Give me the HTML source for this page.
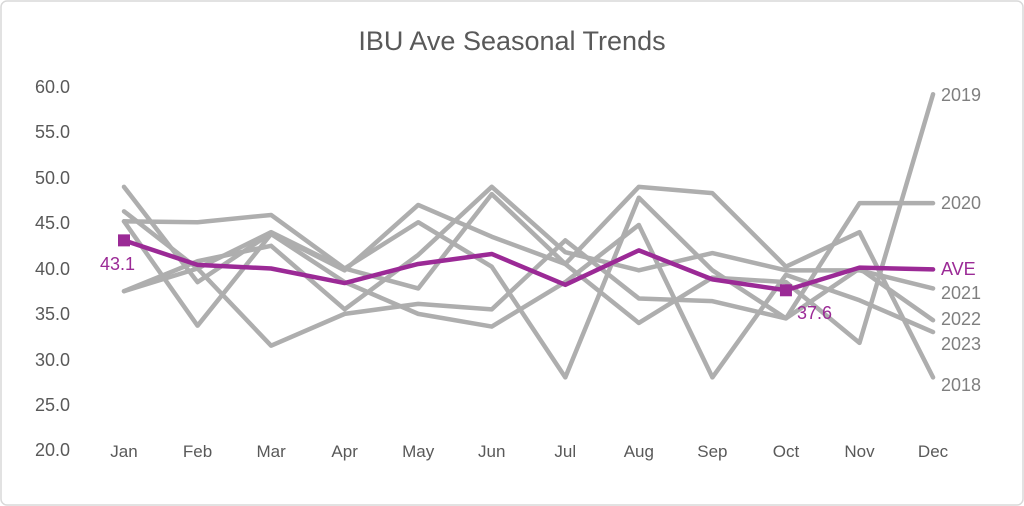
<!DOCTYPE html>
<html><head><style>
body{margin:0;background:#fff;}
svg{display:block;font-family:"Liberation Sans",sans-serif;}
</style></head><body>
<svg id="c" width="1024" height="506" xmlns="http://www.w3.org/2000/svg">
<rect x="1" y="1" width="1022" height="504" rx="6" fill="#fff" stroke="#d9d9d9" stroke-width="1.5"/>
<text x="512" y="50" text-anchor="middle" font-size="27" fill="#595959">IBU Ave Seasonal Trends</text>
<g font-size="18" fill="#595959" text-anchor="end">
<text x="70" y="93">60.0</text><text x="70" y="138">55.0</text><text x="70" y="184">50.0</text>
<text x="70" y="229">45.0</text><text x="70" y="275">40.0</text><text x="70" y="320">35.0</text>
<text x="70" y="366">30.0</text><text x="70" y="411">25.0</text><text x="70" y="456">20.0</text>
</g>
<g font-size="17" fill="#595959" text-anchor="middle" id="months"></g>
<g id="lines" fill="none" stroke-linejoin="round" stroke-linecap="round"></g>
<g font-size="18" fill="#7f7f7f">
<text x="941" y="101">2019</text><text x="941" y="209">2020</text>
<text x="941" y="299">2021</text><text x="941" y="325">2022</text>
<text x="941" y="350">2023</text><text x="941" y="391">2018</text>
<text x="941" y="275" fill="#9b2a96">AVE</text>
</g>
<text x="100" y="270" font-size="18" fill="#9b2a96">43.1</text>
<text x="797" y="319" font-size="18" fill="#9b2a96">37.6</text>
</svg>
<script>
var xs=[],m=["Jan","Feb","Mar","Apr","May","Jun","Jul","Aug","Sep","Oct","Nov","Dec"];
for(var i=0;i<12;i++)xs.push(124+i*73.55);
function Y(v){return 450-(v-20)*9.075;}
var ns="http://www.w3.org/2000/svg";
var mg=document.getElementById("months");
m.forEach(function(t,i){var e=document.createElementNS(ns,"text");e.setAttribute("x",xs[i]);e.setAttribute("y",457);e.textContent=t;mg.appendChild(e);});
var d=[
[37.5,40,44,40,37.8,48.2,40.5,34,39,38.5,31.8,59.2],
[45.2,45.1,45.9,40,45.1,40.2,28,47.8,39.8,34.5,47.2,47.2],
[49,38.5,43.9,39.8,47,43.5,40.5,49,48.3,40.2,44,28],
[37.5,40.8,42.5,35.5,41.5,49,41.8,39.8,41.7,39.8,39.8,37.8],
[46.3,40,31.5,35,36.1,35.5,43.1,36.7,36.4,34.5,40,34.3],
[45.2,33.7,43.8,38.5,35,33.6,38.5,44.8,28,39.3,36.5,33]];
var ave=[43.1,40.4,40,38.4,40.5,41.6,38.2,42,38.8,37.6,40.1,39.9];
var g=document.getElementById("lines");
function pl(a,c){var p=document.createElementNS(ns,"polyline");p.setAttribute("points",a.map(function(v,i){return xs[i]+","+Y(v)}).join(" "));p.setAttribute("stroke",c);p.setAttribute("stroke-width",4.5);g.appendChild(p);}
d.forEach(function(a){pl(a,"#aeaeae")});
pl(ave,"#9b2a96");
[[0,43.1],[9,37.6]].forEach(function(q){var r=document.createElementNS(ns,"rect");r.setAttribute("x",xs[q[0]]-6);r.setAttribute("y",Y(q[1])-6);r.setAttribute("width",12);r.setAttribute("height",12);r.setAttribute("fill","#9b2a96");g.appendChild(r);});
</script>
</body></html>
